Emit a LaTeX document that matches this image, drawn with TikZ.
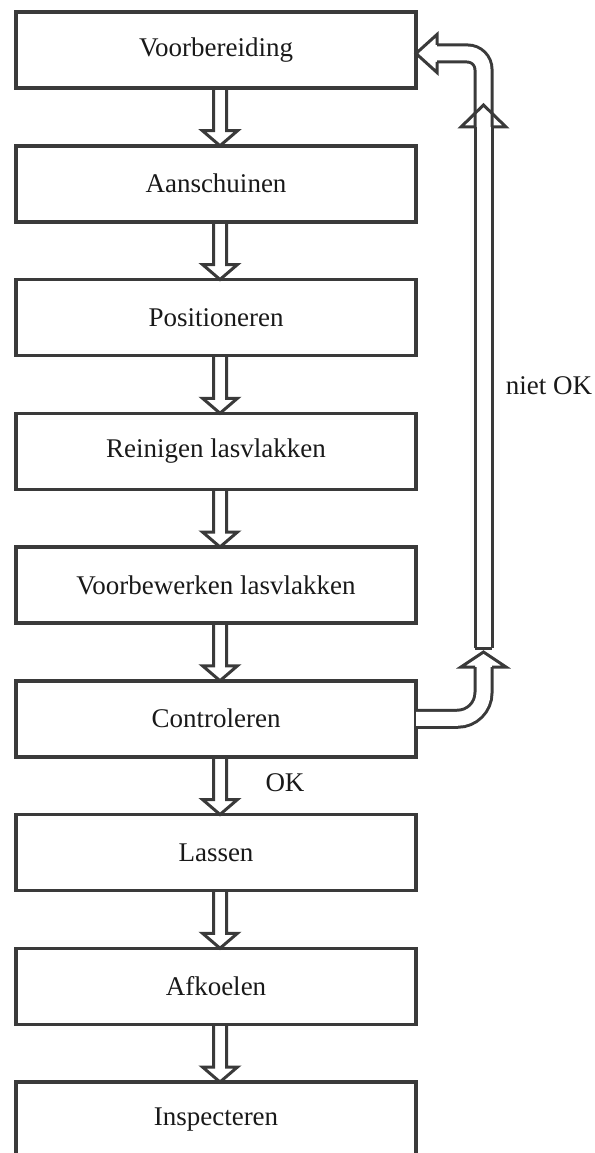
\documentclass[tikz,border=0pt]{standalone}
\usepackage{fontspec}
\setmainfont{Liberation Serif}
\usepackage{tikz}
\usetikzlibrary{positioning,calc}
\definecolor{linegrey}{RGB}{58,58,58}
\definecolor{textgrey}{RGB}{25,25,25}

% hollow down arrow from the bottom of one box to the top of the next
\newcommand{\hollowdown}[2]{%
  \draw[hollow] ([xshift=-2.5pt]#1.south) -- ([xshift=-2.5pt,yshift=15pt]#2.north)
    -- ([xshift=-13.5pt,yshift=15pt]#2.north) -- ([xshift=4pt]#2.north)
    -- ([xshift=21.5pt,yshift=15pt]#2.north) -- ([xshift=10.5pt,yshift=15pt]#2.north)
    -- ([xshift=10.5pt]#1.south);}

\begin{document}
\begin{tikzpicture}[
  x=1pt, y=1pt,
  node distance=57.75pt,
  stage/.style={draw=linegrey, line width=3.5pt, minimum width=400pt, minimum height=76pt,
    inner sep=0pt, outer sep=0pt, text=textgrey, font=\fontsize{27}{31}\selectfont},
  hollow/.style={draw=linegrey, line width=3pt, line join=miter},
  tube/.style={draw=linegrey, line width=3pt, double=white, double distance=14pt},
  tag/.style={text=textgrey, font=\fontsize{27}{31}\selectfont, inner sep=0pt}
]
\useasboundingbox (0,0) rectangle (594,-1153);

\node[stage] (prep) at (216,-50) {Voorbereiding};
\node[stage, below=of prep] (bevel) {Aanschuinen};
\node[stage, below=of bevel] (place) {Positioneren};
\node[stage, below=of place] (clean) {Reinigen lasvlakken};
\node[stage, below=of clean] (machine) {Voorbewerken lasvlakken};
\node[stage, below=of machine] (check) {Controleren};
\node[stage, below=of check] (weld) {Lassen};
\node[stage, below=of weld] (cool) {Afkoelen};
\node[stage, below=of cool] (inspect) {Inspecteren};

\foreach \a/\b in {prep/bevel, bevel/place, place/clean, clean/machine,
                   machine/check, check/weld, weld/cool, cool/inspect}
  \hollowdown{\a}{\b};

\node[tag] (ok) at (285,-783) {OK};
\node[tag] (notok) at (549,-386) {niet OK};

% return loop: niet OK
\coordinate (rise) at (483.5,-127);
\coordinate (tip) at ([yshift=-3.5pt]prep.east);
\draw[tube, rounded corners=16pt] (rise) |- ([xshift=21pt]tip);
\draw[hollow] ([xshift=21pt,yshift=8.5pt]tip) -- ([xshift=21pt,yshift=19pt]tip) -- (tip)
  -- ([xshift=21pt,yshift=-19pt]tip) -- ([xshift=21pt,yshift=-8.5pt]tip);

\coordinate (foot) at (483.5,-648);
\draw[tube] (foot) -- (rise);
\draw[hollow] ([xshift=-8.5pt]foot) -- ([xshift=8.5pt]foot);
\draw[hollow] ([xshift=-8.5pt]rise) -- ([xshift=-22.5pt]rise) -- ([yshift=22pt]rise)
  -- ([xshift=22.5pt]rise) -- ([xshift=8.5pt]rise);

\coordinate (bend) at (483.5,-667);
\draw[tube, rounded corners=26pt] (check.east) -| (bend);
\draw[hollow] ([xshift=-8.5pt]bend) -- ([xshift=-22.5pt]bend) -- ([yshift=15pt]bend)
  -- ([xshift=22.5pt]bend) -- ([xshift=8.5pt]bend);
\end{tikzpicture}
\end{document}
